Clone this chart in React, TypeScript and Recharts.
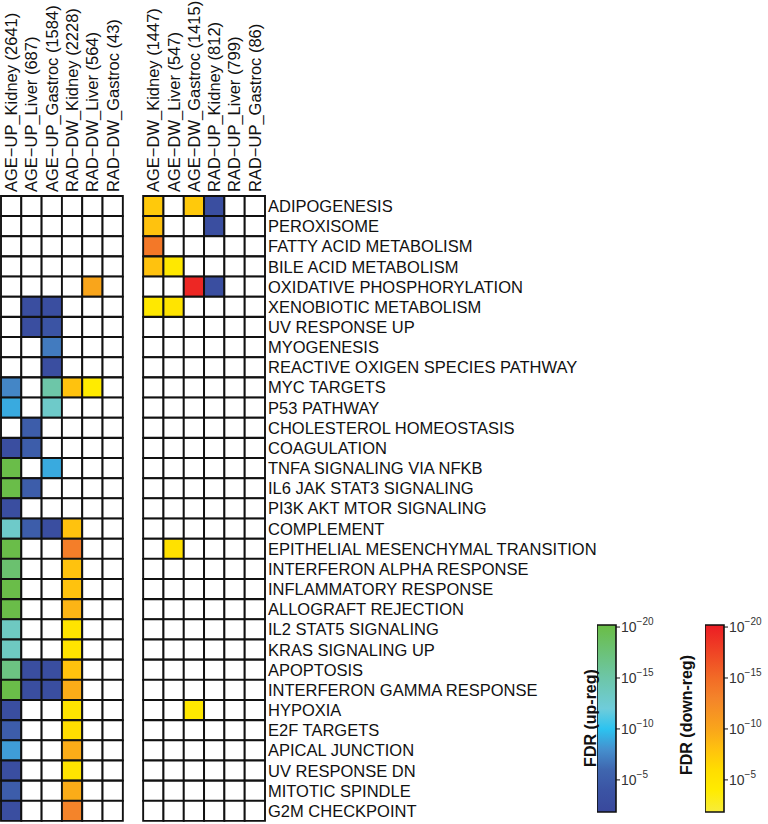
import React from 'react';
import { BarChart, Bar, XAxis, YAxis, Cell } from 'recharts';

const FONT = '"Liberation Sans", Arial, Helvetica, sans-serif';

const pathways = [
  'ADIPOGENESIS', 'PEROXISOME', 'FATTY ACID METABOLISM', 'BILE ACID METABOLISM',
  'OXIDATIVE PHOSPHORYLATION', 'XENOBIOTIC METABOLISM', 'UV RESPONSE UP', 'MYOGENESIS',
  'REACTIVE OXIGEN SPECIES PATHWAY', 'MYC TARGETS', 'P53 PATHWAY', 'CHOLESTEROL HOMEOSTASIS',
  'COAGULATION', 'TNFA SIGNALING VIA NFKB', 'IL6 JAK STAT3 SIGNALING', 'PI3K AKT MTOR SIGNALING',
  'COMPLEMENT', 'EPITHELIAL MESENCHYMAL TRANSITION', 'INTERFERON ALPHA RESPONSE',
  'INFLAMMATORY RESPONSE', 'ALLOGRAFT REJECTION', 'IL2 STAT5 SIGNALING', 'KRAS SIGNALING UP',
  'APOPTOSIS', 'INTERFERON GAMMA RESPONSE', 'HYPOXIA', 'E2F TARGETS', 'APICAL JUNCTION',
  'UV RESPONSE DN', 'MITOTIC SPINDLE', 'G2M CHECKPOINT',
];

const colLabels = [
  'AGE\u2212UP_Kidney (2641)', 'AGE\u2212UP_Liver (687)', 'AGE\u2212UP_Gastroc (1584)',
  'RAD\u2212DW_Kidney (2228)', 'RAD\u2212DW_Liver (564)', 'RAD\u2212DW_Gastroc (43)',
  'AGE\u2212DW_Kidney (1447)', 'AGE\u2212DW_Liver (547)', 'AGE\u2212DW_Gastroc (1415)',
  'RAD\u2212UP_Kidney (812)', 'RAD\u2212UP_Liver (799)', 'RAD\u2212UP_Gastroc (86)',
];

// signed -log10(FDR): positive = up-regulated, negative = down-regulated, 0 = not significant
const ageUpKidney = [0, 0, 0, 0, 0, 0, 0, 0, 0, 7.5, 9, 0, 3, 20, 20, 3, 13, 20, 18, 20, 20, 13.5, 13.5, 17, 20, 3, 5, 8.5, 3, 5, 3];
const ageUpLiver = [0, 0, 0, 0, 0, 3, 3, 0, 0, 0, 0, 5, 5, 0, 5, 0, 5, 0, 0, 0, 0, 0, 0, 3, 3, 0, 0, 0, 0, 0, 0];
const ageUpGastroc = [0, 0, 0, 0, 0, 3, 4, 7, 3, 15, 13, 0, 0, 9, 0, 0, 3, 0, 0, 0, 0, 0, 0, 3, 3, 0, 0, 0, 0, 0, 0];
const radDwKidney = [0, 0, 0, 0, 0, 0, 0, 0, 0, -8, 0, 0, 0, 0, 0, 0, -8, -13.5, -8, -8, -9, -5, -5, -8, -9.5, -5, -6, -9.5, -5, -9.5, -13];
const radDwLiver = [0, 0, 0, 0, -10, 0, 0, 0, 0, -4, 0, 0, 0, 0, 0, 0, 0, 0, 0, 0, 0, 0, 0, 0, 0, 0, 0, 0, 0, 0, 0];
const radDwGastroc = [0, 0, 0, 0, 0, 0, 0, 0, 0, 0, 0, 0, 0, 0, 0, 0, 0, 0, 0, 0, 0, 0, 0, 0, 0, 0, 0, 0, 0, 0, 0];
const ageDwKidney = [-7.5, -8, -14, -8, 0, -4.5, 0, 0, 0, 0, 0, 0, 0, 0, 0, 0, 0, 0, 0, 0, 0, 0, 0, 0, 0, 0, 0, 0, 0, 0, 0];
const ageDwLiver = [0, 0, 0, -4.5, 0, -5, 0, 0, 0, 0, 0, 0, 0, 0, 0, 0, 0, -5.5, 0, 0, 0, 0, 0, 0, 0, 0, 0, 0, 0, 0, 0];
const ageDwGastroc = [-7.5, 0, 0, 0, -19.5, 0, 0, 0, 0, 0, 0, 0, 0, 0, 0, 0, 0, 0, 0, 0, 0, 0, 0, 0, 0, -4.5, 0, 0, 0, 0, 0];
const radUpKidney = [3, 3, 0, 0, 3, 0, 0, 0, 0, 0, 0, 0, 0, 0, 0, 0, 0, 0, 0, 0, 0, 0, 0, 0, 0, 0, 0, 0, 0, 0, 0];
const radUpLiver = [0, 0, 0, 0, 0, 0, 0, 0, 0, 0, 0, 0, 0, 0, 0, 0, 0, 0, 0, 0, 0, 0, 0, 0, 0, 0, 0, 0, 0, 0, 0];
const radUpGastroc = [0, 0, 0, 0, 0, 0, 0, 0, 0, 0, 0, 0, 0, 0, 0, 0, 0, 0, 0, 0, 0, 0, 0, 0, 0, 0, 0, 0, 0, 0, 0];

const columns = [
  ageUpKidney, ageUpLiver, ageUpGastroc, radDwKidney, radDwLiver, radDwGastroc,
  ageDwKidney, ageDwLiver, ageDwGastroc, radUpKidney, radUpLiver, radUpGastroc,
];

// colour scales (-log10 FDR -> colour)
const fdrRange: [number, number] = [1.85, 20.2];
const barTicks = [5, 10, 15, 20];
const upStops: [number, string][] = [
  [1.85, '#39489c'], [4, '#3b54a4'], [6, '#3f66af'], [8, '#4590ce'],
  [10, '#2cc3f0'], [12, '#6fccda'], [15, '#6dc6a8'], [20.2, '#6abd45'],
];
const downStops: [number, string][] = [
  [1.85, '#f7ec3a'], [4, '#ffeb00'], [6, '#ffdd00'], [8, '#ffc20e'],
  [10, '#f9a51b'], [13, '#f4842a'], [15, '#f26b26'], [20.2, '#ec1c24'],
];

const hex = (h: string) => [1, 3, 5].map((i) => parseInt(h.slice(i, i + 2), 16));
const interp = (stops: [number, string][], v: number) => {
  if (v <= stops[0][0]) return stops[0][1];
  for (let i = 1; i < stops.length; i++) {
    if (v <= stops[i][0]) {
      const [a, ca] = stops[i - 1];
      const [b, cb] = stops[i];
      const t = (v - a) / (b - a);
      const A = hex(ca);
      const B = hex(cb);
      const c = A.map((x, k) => Math.round(x + (B[k] - x) * t));
      return `rgb(${c[0]},${c[1]},${c[2]})`;
    }
  }
  return stops[stops.length - 1][1];
};
const colorFor = (v: number) => (v === 0 ? '#ffffff' : v > 0 ? interp(upStops, v) : interp(downStops, -v));

const GAP = 1;
const colKeys = colLabels.map((_, j) => `c${j}`);
const tableRows = pathways.map((name) => {
  const row: Record<string, any> = { name, gap: GAP };
  colKeys.forEach((k) => (row[k] = 1));
  return row;
});
const centers = colLabels.map((_, j) => (j < 6 ? j + 0.5 : j + GAP + 0.5));

const HeaderTick = (props: any) => {
  const { x, y, payload } = props;
  const idx = centers.indexOf(payload.value);
  return (
    <text
      x={x}
      y={y}
      dy="0.36em"
      transform={`rotate(-90, ${x}, ${y})`}
      textAnchor="start"
      fontFamily={FONT}
      fontSize={16.5}
      fill="#111"
    >
      {colLabels[idx]}
    </text>
  );
};

const RowTick = (props: any) => {
  const { x, y, payload } = props;
  return (
    <text x={x} y={y} dy="0.36em" textAnchor="start" fontFamily={FONT} fontSize={16.5} fill="#111">
      {payload.value}
    </text>
  );
};

const PowTick = (props: any) => {
  const { x, y, payload } = props;
  return (
    <text x={x} y={y} dy={5} textAnchor="start" fontFamily={FONT} fill="#333">
      <tspan fontSize={14}>10</tspan>
      <tspan fontSize={10} dy={-7}>{`\u2212${payload.value}`}</tspan>
    </text>
  );
};

const gradStops = (stops: [number, string][]) => {
  const [lo, hi] = fdrRange;
  return stops
    .slice()
    .reverse()
    .map(([v, c], i) => <stop key={i} offset={`${((hi - v) / (hi - lo)) * 100}%`} stopColor={c} />);
};

const ColorBar = ({ left, id }: { left: number; id: string }) => (
  <div style={{ position: 'absolute', left, top: 600, width: 90, height: 230 }}>
    <BarChart
      width={90}
      height={230}
      data={[{ name: 'fdr', range: fdrRange }]}
      margin={{ top: 25, right: 0, bottom: 18, left: 0 }}
      barCategoryGap={0}
    >
      <XAxis dataKey="name" type="category" hide />
      <YAxis
        orientation="right"
        type="number"
        domain={fdrRange}
        ticks={barTicks}
        interval={0}
        width={71}
        tickSize={4}
        tickMargin={1}
        axisLine={false}
        tickLine={{ stroke: '#111' }}
        tick={<PowTick />}
      />
      <Bar dataKey="range" fill={`url(#${id})`} stroke="#111" strokeWidth={1.6} isAnimationActive={false} />
    </BarChart>
  </div>
);

export default function App() {
  const bars: React.ReactNode[] = [];
  colKeys.forEach((k, j) => {
    if (j === 6) {
      bars.push(
        <Bar key="gap" dataKey="gap" stackId="s" fill="none" stroke="none" isAnimationActive={false} />
      );
    }
    bars.push(
      <Bar key={k} dataKey={k} stackId="s" stroke="#111" strokeWidth={1.9} isAnimationActive={false}>
        {pathways.map((_, i) => (
          <Cell key={i} fill={colorFor(columns[j][i])} />
        ))}
      </Bar>
    );
  });

  return (
    <div style={{ position: 'absolute', left: 0, top: 0, width: 768, height: 824, background: '#fff' }}>
      <svg width={0} height={0} style={{ position: 'absolute' }}>
        <defs>
          <linearGradient id="gradUp" x1="0" y1="0" x2="0" y2="1">
            {gradStops(upStops)}
          </linearGradient>
          <linearGradient id="gradDown" x1="0" y1="0" x2="0" y2="1">
            {gradStops(downStops)}
          </linearGradient>
        </defs>
      </svg>
      <div style={{ position: 'absolute', left: 0, top: 0 }}>
        <BarChart
          width={768}
          height={824}
          data={tableRows}
          layout="vertical"
          margin={{ top: 0, left: 1, right: 0, bottom: 3 }}
          barCategoryGap={0}
        >
          <XAxis
            type="number"
            orientation="top"
            domain={[0, 12 + GAP]}
            ticks={centers}
            interval={0}
            height={196}
            tickSize={0}
            tickMargin={4}
            axisLine={false}
            tickLine={false}
            tick={<HeaderTick />}
          />
          <YAxis
            type="category"
            dataKey="name"
            orientation="right"
            width={503}
            interval={0}
            tickSize={0}
            tickMargin={3}
            axisLine={false}
            tickLine={false}
            tick={<RowTick />}
          />
          {bars}
        </BarChart>
      </div>
      <ColorBar left={597} id="gradUp" />
      <ColorBar left={705} id="gradDown" />
      <svg width={768} height={824} style={{ position: 'absolute', left: 0, top: 0, pointerEvents: 'none' }}>
        <text
          x={590}
          y={718}
          dy="0.36em"
          transform="rotate(-90, 590, 718)"
          textAnchor="middle"
          fontFamily={FONT}
          fontWeight="bold"
          fontSize={16}
          fill="#111"
        >
          FDR (up-reg)
        </text>
        <text
          x={686}
          y={715}
          dy="0.36em"
          transform="rotate(-90, 686, 715)"
          textAnchor="middle"
          fontFamily={FONT}
          fontWeight="bold"
          fontSize={16}
          fill="#111"
        >
          FDR (down-reg)
        </text>
      </svg>
    </div>
  );
}
